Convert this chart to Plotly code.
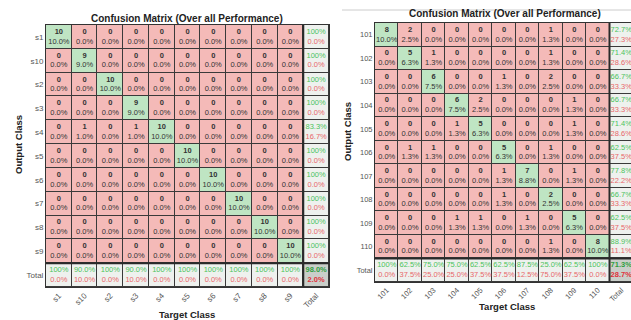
import math
from fractions import Fraction
import plotly.graph_objects as go

# ---- data -------------------------------------------------------------
left_classes = ["s1", "s10", "s2", "s3", "s4", "s5", "s6", "s7", "s8", "s9"]
# rows = output class, columns = target class
left_counts = [
    [10, 0, 0, 0, 0, 0, 0, 0, 0, 0],
    [0, 9, 0, 0, 0, 0, 0, 0, 0, 0],
    [0, 0, 10, 0, 0, 0, 0, 0, 0, 0],
    [0, 0, 0, 9, 0, 0, 0, 0, 0, 0],
    [0, 1, 0, 1, 10, 0, 0, 0, 0, 0],
    [0, 0, 0, 0, 0, 10, 0, 0, 0, 0],
    [0, 0, 0, 0, 0, 0, 10, 0, 0, 0],
    [0, 0, 0, 0, 0, 0, 0, 10, 0, 0],
    [0, 0, 0, 0, 0, 0, 0, 0, 10, 0],
    [0, 0, 0, 0, 0, 0, 0, 0, 0, 10],
]

right_classes = ["101", "102", "103", "104", "105", "106", "107", "108", "109", "110"]
right_counts = [
    [8, 2, 0, 0, 0, 0, 0, 1, 0, 0],
    [0, 5, 1, 0, 0, 0, 0, 1, 0, 0],
    [0, 0, 6, 0, 0, 1, 0, 2, 0, 0],
    [0, 0, 0, 6, 2, 0, 0, 0, 1, 0],
    [0, 0, 0, 1, 5, 0, 0, 0, 1, 0],
    [0, 1, 1, 0, 0, 5, 0, 1, 0, 0],
    [0, 0, 0, 0, 0, 1, 7, 0, 1, 0],
    [0, 0, 0, 0, 0, 1, 0, 2, 0, 0],
    [0, 0, 0, 1, 1, 0, 1, 0, 5, 0],
    [0, 0, 0, 0, 0, 0, 0, 1, 0, 8],
]

title_text = "Confusion Matrix (Over all Performance)"

# ---- styling ----------------------------------------------------------
FONT = "Liberation Sans, Arial, sans-serif"
RED_CELL = "#f4bab8"
GREEN_CELL = "#bfe5c3"
TOTAL_CELL = "#eef1ee"
GRAND_CELL = "#c9cec9"
GOOD_TXT = "#4cc35c"
BAD_TXT = "#e8676a"
GOOD_BOLD = "#2f9e40"
BAD_BOLD = "#e0303a"


def rounded_pct(num, den):
    """Percentage rounded half-up to one decimal, as an exact Fraction."""
    f = Fraction(100 * num, den)
    return Fraction(math.floor(f * 10 + Fraction(1, 2)), 10)


def fmt(v):
    return "100%" if v == 100 else f"{float(v):.1f}%"


def acc_err(num, den, bold=False):
    acc = rounded_pct(num, den)
    err = 100 - acc
    if bold:
        return (f"<span style='color:{GOOD_BOLD}'><b>{fmt(acc)}</b></span><br>"
                f"<span style='color:{BAD_BOLD}'><b>{fmt(err)}</b></span>")
    return (f"<span style='color:{GOOD_TXT}'>{fmt(acc)}</span><br>"
            f"<span style='color:{BAD_TXT}'>{fmt(err)}</span>")


def panel(classes, counts, xa, ya):
    n = len(classes)
    total = sum(sum(r) for r in counts)
    z, xs, ys, texts = [], [], [], []
    for i in range(n + 1):
        zrow = []
        for j in range(n + 1):
            if i < n and j < n:
                c = counts[i][j]
                zrow.append(1 if i == j else 0)
                t = f"<b>{c}</b><br>{fmt(rounded_pct(c, total))}"
            elif i < n and j == n:
                zrow.append(2)
                t = acc_err(counts[i][i], sum(counts[i]))
            elif i == n and j < n:
                zrow.append(2)
                t = acc_err(counts[j][j], sum(counts[k][j] for k in range(n)))
            else:
                zrow.append(3)
                t = acc_err(sum(counts[k][k] for k in range(n)), total, bold=True)
            xs.append(j)
            ys.append(i)
            texts.append(t)
        z.append(zrow)
    heat = go.Heatmap(
        z=z, x=list(range(n + 1)), y=list(range(n + 1)),
        zmin=0, zmax=3,
        colorscale=[[0, RED_CELL], [1 / 6, RED_CELL], [1 / 6, GREEN_CELL], [0.5, GREEN_CELL],
                    [0.5, TOTAL_CELL], [5 / 6, TOTAL_CELL], [5 / 6, GRAND_CELL], [1, GRAND_CELL]],
        showscale=False, xgap=1, ygap=1, hoverinfo="skip",
        xaxis=xa, yaxis=ya,
    )
    txt = go.Scatter(
        x=xs, y=ys, text=texts, mode="text",
        textfont=dict(family=FONT, size=7.5, color="#333333"),
        hoverinfo="skip", showlegend=False, xaxis=xa, yaxis=ya,
    )
    return [heat, txt], n


fig = go.Figure()
lt, nl = panel(left_classes, left_counts, "x", "y")
rt, nr = panel(right_classes, right_counts, "x2", "y2")
for t in lt + rt:
    fig.add_trace(t)

W, H = 631, 320


def px_x(p):
    return p / W


def px_y(p):
    return 1 - p / H


axis_common = dict(showgrid=False, zeroline=False, ticks="", linecolor="#333333", linewidth=1)
left_tick = dict(family=FONT, size=8, color="#555555")
right_tick = dict(family=FONT, size=7.5, color="#555555")

fig.update_layout(
    width=W, height=H,
    margin=dict(l=0, r=0, t=0, b=0),
    paper_bgcolor="white", plot_bgcolor="#3a3a3a",
    showlegend=False,
    xaxis=dict(domain=[px_x(46), px_x(329)], range=[-0.5, nl + 0.5],
               tickvals=list(range(nl + 1)), ticktext=left_classes + ["Total"],
               tickangle=-45, showline=True, mirror=True, anchor="y",
               tickfont=left_tick, **axis_common),
    yaxis=dict(domain=[px_y(287), px_y(25)], range=[nl + 0.5, -0.5],
               tickvals=list(range(nl + 1)), ticktext=left_classes + ["Total"],
               showline=True, mirror=True, anchor="x", tickfont=left_tick, **axis_common),
    xaxis2=dict(domain=[px_x(375), 1.0], range=[-0.5, -0.5 + (W - 375) / 23.45],
                tickvals=list(range(nr + 1)), ticktext=right_classes + ["Total"],
                tickangle=-45, showline=True, mirror=True, anchor="y2",
                tickfont=right_tick, **axis_common),
    yaxis2=dict(domain=[px_y(282), px_y(23)], range=[nr + 0.5, -0.5],
                tickvals=list(range(nr + 1)), ticktext=right_classes + ["Total"],
                showline=True, mirror=False, anchor="x2", tickfont=right_tick, **axis_common),
)

# heavier rules separating the totals row and column
for xa, ya, n in (("x", "y", nl), ("x2", "y2", nr)):
    fig.add_shape(type="line", xref=xa, yref=ya, x0=n - 0.5, x1=n - 0.5, y0=-0.5, y1=n + 0.5,
                  line=dict(color="#2a2a2a", width=2))
    fig.add_shape(type="line", xref=xa, yref=ya, x0=-0.5, x1=n + 0.5, y0=n - 0.5, y1=n - 0.5,
                  line=dict(color="#2a2a2a", width=2))

# thin frame line above the second matrix
fig.add_shape(type="line", xref="paper", yref="paper", x0=px_x(342), x1=1.0,
              y0=px_y(10), y1=px_y(10), line=dict(color="#cccccc", width=1))

bold_font = dict(family=FONT, size=10, color="#222222")
label_font = dict(family=FONT, size=9.5, color="#222222")
ann = [
    dict(text=f"<b>{title_text}</b>", x=px_x(187), y=px_y(18), font=bold_font),
    dict(text=f"<b>{title_text}</b>", x=px_x(505), y=px_y(14), font=bold_font),
    dict(text="<b>Output Class</b>", x=px_x(18), y=px_y(145), textangle=-90, font=label_font),
    dict(text="<b>Output Class</b>", x=px_x(347), y=px_y(132), textangle=-90, font=label_font),
    dict(text="<b>Target Class</b>", x=px_x(187), y=px_y(314), font=label_font),
    dict(text="<b>Target Class</b>", x=px_x(507), y=px_y(306), font=label_font),
]
for a in ann:
    fig.add_annotation(xref="paper", yref="paper", showarrow=False,
                       xanchor="center", yanchor="middle", **a)

fig.write_html("out.html")
